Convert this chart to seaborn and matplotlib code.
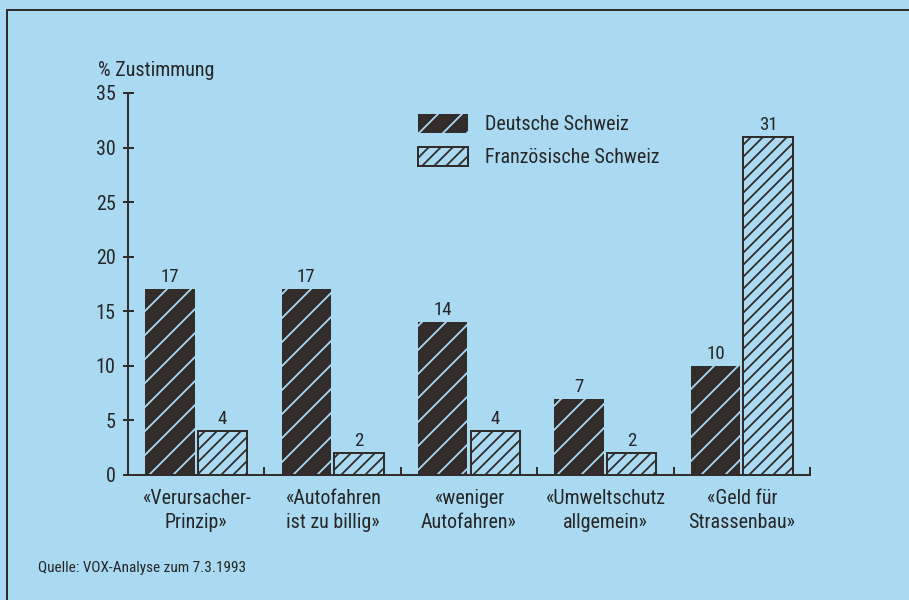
import matplotlib.pyplot as plt
import matplotlib.lines as mlines
import matplotlib.font_manager as fm
import pandas as pd
import seaborn as sns

categories = [
    "«Verursacher-\nPrinzip»",
    "«Autofahren\nist zu billig»",
    "«weniger\nAutofahren»",
    "«Umweltschutz\nallgemein»",
    "«Geld für\nStrassenbau»",
]
regions = ["Deutsche Schweiz", "Französische Schweiz"]
deutsche = [17, 17, 14, 7, 10]
franzoesische = [4, 2, 4, 2, 31]
y_ticks = [0, 5, 10, 15, 20, 25, 30, 35]
source = "Quelle: VOX-Analyse zum 7.3.1993"

BG = "#aadaf2"
DARK = "#322c2a"
INK = "#262626"

# dpi 72 -> 1 pt == 1 px, and the hatch cell is 72 px wide
DPI = 72
W, H = 909, 600

df = pd.DataFrame({
    "Argument": categories * 2,
    "Region": [regions[0]] * len(categories) + [regions[1]] * len(categories),
    "Zustimmung": deutsche + franzoesische,
})

# pick a narrow sans if there is one
installed = {f.name for f in fm.fontManager.ttflist}
family = "DejaVu Sans"
for cand in ["Liberation Sans Narrow", "Roboto Condensed", "DejaVu Sans Condensed",
             "Open Sans Condensed", "Roboto", "Liberation Sans"]:
    if cand in installed:
        family = cand
        break

sns.set_theme(style="ticks")
plt.rcParams["font.family"] = [family, "DejaVu Sans"]
plt.rcParams["hatch.linewidth"] = 1.8
plt.rcParams["text.color"] = INK
plt.rcParams["xtick.color"] = DARK
plt.rcParams["ytick.color"] = DARK
plt.rcParams["xtick.labelcolor"] = INK
plt.rcParams["ytick.labelcolor"] = INK

fig = plt.figure(figsize=(W / DPI, H / DPI), dpi=DPI, facecolor=BG)
ax = fig.add_axes([128 / W, 1 - 475 / H, (810 - 128) / W, (475 - 93) / H])
ax.set_facecolor(BG)

sns.barplot(data=df, x="Argument", y="Zustimmung", hue="Region", hue_order=regions,
            palette=[DARK, BG], saturation=1, width=0.77, gap=0.06,
            edgecolor=DARK, linewidth=2, legend=False, ax=ax)

# hatching: light lines on the dark bars, dark lines on the light bars
for cont, hatch, hcolor in zip(ax.containers, ["/", "//"], [BG, DARK]):
    for bar in cont:
        bar.set_hatch(hatch)
        if hasattr(bar, "set_hatchcolor"):
            bar.set_hatchcolor(hcolor)
        elif hcolor == BG:
            bar.set_edgecolor(BG)
            bar.set_linewidth(0)
    ax.bar_label(cont, padding=3, fontsize=19, color=INK)

ax.set_xlim(-0.5, len(categories) - 0.5)
ax.set_ylim(0, 35)
ax.set_yticks(y_ticks)
ax.set_xticks(range(len(categories)), labels=categories)
ax.set_xticks([i + 0.5 for i in range(len(categories))], minor=True)
ax.set_xlabel("")
ax.set_ylabel("")

ax.tick_params(axis="x", which="major", length=0, pad=14, labelsize=20)
ax.tick_params(axis="x", which="minor", direction="in", length=8, width=2)
ax.tick_params(axis="y", direction="inout", length=11, width=2, pad=7, labelsize=20)
for lbl in ax.get_xticklabels():
    lbl.set_linespacing(1.35)

sns.despine(ax=ax)
for side in ["left", "bottom"]:
    ax.spines[side].set_color(DARK)
    ax.spines[side].set_linewidth(2)

ax.legend(handles=list(ax.containers), labels=regions, loc="upper left",
          bbox_to_anchor=(0.425, 0.945), frameon=False, fontsize=20,
          handlelength=2.5, handleheight=1.1, handletextpad=0.85,
          labelspacing=0.62, borderpad=0, borderaxespad=0)

fig.text(98 / W, 1 - 71 / H, "% Zustimmung", fontsize=20, va="center", ha="left")
fig.text(38 / W, 1 - 568 / H, source, fontsize=15.3, va="center", ha="left")

# frame of the print figure
fig.add_artist(mlines.Line2D([7 / W, 7 / W], [0, 1 - 10 / H], color=DARK, lw=2))
fig.add_artist(mlines.Line2D([7 / W, 1], [1 - 10 / H, 1 - 10 / H], color=DARK, lw=2))

fig.savefig("out.png", dpi=DPI, facecolor=BG)
